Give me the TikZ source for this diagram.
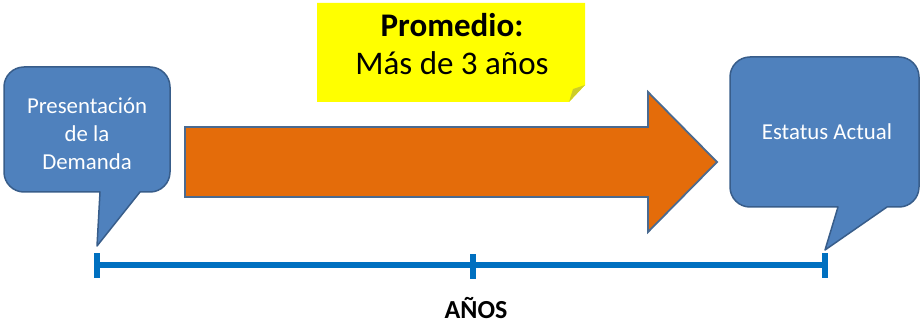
\documentclass[tikz,border=0pt]{standalone}
\usepackage{fontspec}
\setmainfont{Carlito}
\definecolor{calloutfill}{HTML}{4F81BD}
\definecolor{calloutline}{HTML}{385D8A}
\definecolor{arrowfill}{HTML}{E46C0A}
\definecolor{arrowline}{HTML}{4A6A90}
\definecolor{axisblue}{HTML}{0070C0}
\definecolor{notefill}{HTML}{FFFF00}
\definecolor{notefold}{HTML}{CDCD28}
\tikzset{
  calloutshape/.style={fill=calloutfill, draw=calloutline, line width=1.5pt, line join=round},
  arrowshape/.style={fill=arrowfill, draw=arrowline, line width=1.8pt, line join=miter},
  calloutlabel/.style={text=white, font=\fontsize{22.8}{28}\selectfont, inner sep=0pt, anchor=base},
  notelabel/.style={text=black, inner sep=0pt, anchor=base},
  axisline/.style={draw=axisblue, line width=6pt},
  ticklabel/.style={text=black, font=\bfseries\fontsize{26}{30}\selectfont, inner sep=0pt, anchor=base}
}
\begin{document}
\begin{tikzpicture}[x=1pt,y=1pt]
\useasboundingbox (0,0) rectangle (920,324);
% yellow note
\fill[notefill] (317,222) -- (317,321) -- (585,321) -- (585,239) -- (569,222) -- cycle;
\fill[notefold] (585,239) -- (569,222) -- (573,235) -- cycle;
\node[notelabel, font=\bfseries\fontsize{33}{40}\selectfont] (prom) at (452,287) {Promedio:};
\node[notelabel, font=\fontsize{33}{40}\selectfont] (mas) at (452,249) {Más de 3 años};
% orange arrow
\draw[arrowshape] (185,127) -- (648,127) -- (648,92) -- (717,162) -- (648,232) -- (648,197) -- (185,197) -- cycle;
% left callout
\draw[calloutshape] (140,132) -- (150,132) arc[start angle=-90,end angle=0,radius=20]
  -- (170,237) arc[start angle=0,end angle=90,radius=20]
  -- (24,257) arc[start angle=90,end angle=180,radius=20]
  -- (4,152) arc[start angle=180,end angle=270,radius=20]
  -- (100,132) -- (97,78) -- cycle;
\node[calloutlabel] (l1) at (87,210) {Presentación};
\node[calloutlabel] (l2) at (87,182) {de la};
\node[calloutlabel] (l3) at (87,154) {Demanda};
% right callout
\draw[calloutshape] (887,117) -- (899,117) arc[start angle=-90,end angle=0,radius=20]
  -- (919,247) arc[start angle=0,end angle=90,radius=20]
  -- (750,267) arc[start angle=90,end angle=180,radius=20]
  -- (730,137) arc[start angle=180,end angle=270,radius=20]
  -- (838,117) -- (825,74) -- cycle;
\node[calloutlabel] (r1) at (827,184) {Estatus Actual};
% axis
\coordinate (a0) at (97,59);
\coordinate (a1) at (473,59);
\coordinate (a2) at (825,59);
\coordinate (t0a) at (97,71);  \coordinate (t0b) at (97,46);
\coordinate (t1a) at (473,70); \coordinate (t1b) at (473,45);
\coordinate (t2a) at (825,71); \coordinate (t2b) at (825,46);
\draw[axisline] (a0) -- (a2);
\draw[axisline] (t0a) -- (t0b);
\draw[axisline] (t1a) -- (t1b);
\draw[axisline] (t2a) -- (t2b);
\node[ticklabel] (anos) at (476,6) {AÑOS};
\end{tikzpicture}
\end{document}
